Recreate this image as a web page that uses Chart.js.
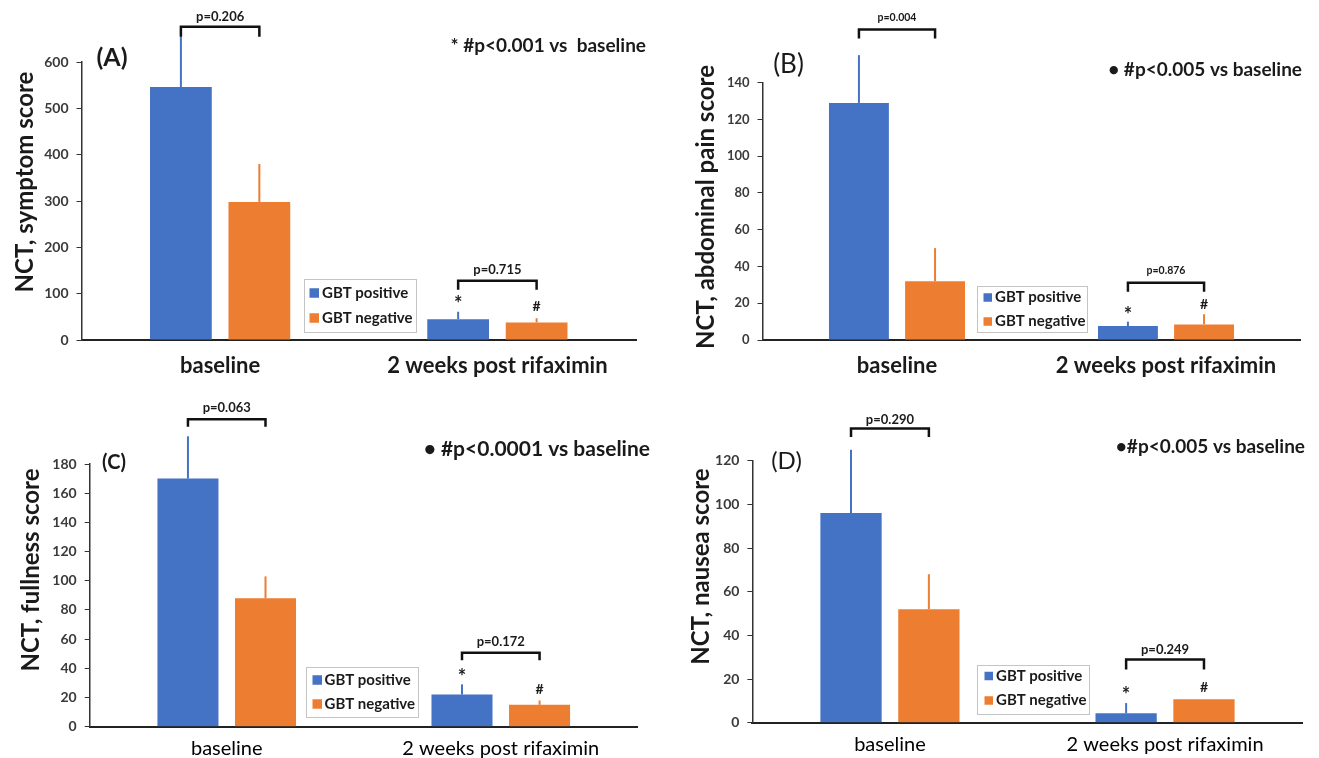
<!DOCTYPE html>
<html>
<head>
<meta charset="utf-8">
<title>NCT scores, GBT positive vs negative</title>
<script src="https://cdn.jsdelivr.net/npm/chart.js@4.4.1/dist/chart.umd.min.js"></script>
<style>
  html, body { margin: 0; padding: 0; background: #fff; }
  #wrap { position: relative; width: 1319px; height: 758px; overflow: hidden; }
  #wrap canvas { position: absolute; }
</style>
</head>
<body>
<div id="wrap">
  <canvas id="chartA" width="660" height="380" style="left:0;top:0;width:660px;height:380px"></canvas>
  <canvas id="chartB" width="659" height="380" style="left:660px;top:0;width:659px;height:380px"></canvas>
  <canvas id="chartC" width="660" height="378" style="left:0;top:380px;width:660px;height:378px"></canvas>
  <canvas id="chartD" width="659" height="378" style="left:660px;top:380px;width:659px;height:378px"></canvas>
</div>
<script>
// ---- data ----
const categories = ["baseline", "2 weeks post rifaximin"];
const seriesLabels = ["GBT positive", "GBT negative"];
const markers = ["*", "#"];

// (A) symptom score
const symptomPos = [546, 45];
const symptomPosUpper = [655, 61];
const symptomNeg = [298, 38];
const symptomNegUpper = [380, 47];
const symptomP = ["p=0.206", "p=0.715"];
const symptomTicks = { max: 600, step: 100 };

// (B) abdominal pain score
const painPos = [129, 7.6];
const painPosUpper = [155, 10];
const painNeg = [32, 8.5];
const painNegUpper = [50, 14];
const painP = ["p=0.004", "p=0.876"];
const painTicks = { max: 140, step: 20 };

// (C) fullness score
const fullPos = [170, 22];
const fullPosUpper = [199, 29];
const fullNeg = [88, 15];
const fullNegUpper = [103, 18];
const fullP = ["p=0.063", "p=0.172"];
const fullTicks = { max: 180, step: 20 };

// (D) nausea score
const nauseaPos = [96, 4.3];
const nauseaPosUpper = [125, 9];
const nauseaNeg = [52, 10.7];
const nauseaNegUpper = [68, null];
const nauseaP = ["p=0.290", "p=0.249"];
const nauseaTicks = { max: 120, step: 20 };

const BLUE = "#4472C4";
const ORANGE = "#ED7D31";
const TEXT = "#1a1a1a";
const FONT = "Lato, 'Open Sans', sans-serif";

// error bars, brackets, markers, legend, labels
const decor = {
  id: "decor",
  afterDatasetsDraw(chart) {
    const ctx = chart.ctx, ys = chart.scales.y;
    chart.data.datasets.forEach((ds, di) => {
      ctx.save();
      ctx.strokeStyle = ds.backgroundColor;
      ctx.lineWidth = 2;
      chart.getDatasetMeta(di).data.forEach((bar, i) => {
        const hi = ds.upper[i];
        if (hi == null || hi <= ds.data[i]) return;
        ctx.beginPath();
        ctx.moveTo(bar.x, bar.y);
        ctx.lineTo(bar.x, ys.getPixelForValue(hi));
        ctx.stroke();
      });
      ctx.restore();
    });
  },
  afterDraw(chart, args, o) {
    const ctx = chart.ctx, ys = chart.scales.y;
    const ds = chart.data.datasets;
    const m0 = chart.getDatasetMeta(0).data, m1 = chart.getDatasetMeta(1).data;
    ctx.save();
    ctx.fillStyle = TEXT;
    ctx.textBaseline = "middle";

    // y axis title
    ctx.save();
    ctx.translate(o.yTitle.x, o.yTitle.y);
    ctx.rotate(-Math.PI / 2);
    ctx.font = o.yTitle.font;
    ctx.textAlign = "center";
    ctx.fillText(o.yTitle.text, 0, 0);
    ctx.restore();

    // panel letter + note
    ctx.font = o.letter.font;
    ctx.textAlign = "center";
    ctx.fillText(o.letter.text, o.letter.x, o.letter.y);
    ctx.font = o.note.font;
    ctx.textAlign = "right";
    ctx.fillText(o.note.text, o.note.x, o.note.y);

    // p-value brackets
    o.brackets.forEach((b, i) => {
      const x0 = m0[i].x, x1 = m1[i].x, y = ys.getPixelForValue(b.level);
      ctx.strokeStyle = "#111";
      ctx.lineWidth = 2.5;
      ctx.beginPath();
      ctx.moveTo(x0, y + b.drop);
      ctx.lineTo(x0, y);
      ctx.lineTo(x1, y);
      ctx.lineTo(x1, y + b.drop);
      ctx.stroke();
      ctx.font = o.pFont;
      ctx.textAlign = "center";
      ctx.fillText(o.pValues[i], (x0 + x1) / 2, y - b.gap);
    });

    // significance markers above post-treatment bars
    ctx.textAlign = "center";
    markers.forEach((sym, di) => {
      const bar = chart.getDatasetMeta(di).data[1];
      const top = Math.max(ds[di].upper[1] ?? 0, ds[di].data[1]);
      const star = sym === "*";
      ctx.font = star ? "bold 20px " + FONT : "bold 14px " + FONT;
      ctx.fillText(sym, bar.x, ys.getPixelForValue(top) - o.markGap + (star ? 4 : 0));
    });

    // legend
    const L = o.legend;
    ctx.fillStyle = "#fff";
    ctx.fillRect(L.x, L.y, L.w, L.h);
    ctx.strokeStyle = "#c4c4c4";
    ctx.lineWidth = 1;
    ctx.strokeRect(L.x + 0.5, L.y + 0.5, L.w, L.h);
    ds.forEach((d, di) => {
      const cy = L.rows[di];
      ctx.fillStyle = d.backgroundColor;
      ctx.fillRect(L.sx, cy - L.sq / 2, L.sq, L.sq);
      ctx.fillStyle = TEXT;
      ctx.font = L.font;
      ctx.textAlign = "left";
      ctx.fillText(d.label, L.tx, cy);
    });
    ctx.restore();
  }
};

function makePanel(id, p) {
  const canvas = document.getElementById(id);
  const H = canvas.height, W = canvas.width;
  const bar = { categoryPercentage: 0.566, barPercentage: 0.787 };
  return new Chart(canvas, {
    type: "bar",
    data: {
      labels: categories,
      datasets: [
        Object.assign({ label: seriesLabels[0], data: p.pos, upper: p.posUpper, backgroundColor: BLUE }, bar),
        Object.assign({ label: seriesLabels[1], data: p.neg, upper: p.negUpper, backgroundColor: ORANGE }, bar)
      ]
    },
    options: {
      responsive: false,
      animation: false,
      devicePixelRatio: 1,
      layout: { padding: { left: 0, top: p.area.top, right: W - p.area.right, bottom: 0 } },
      plugins: {
        legend: { display: false },
        tooltip: { enabled: false },
        decor: p.decor
      },
      scales: {
        x: {
          grid: { display: false, drawTicks: false },
          border: { color: "#222", width: 2 },
          ticks: { color: p.xColor, font: p.xFont, padding: p.xPad, maxRotation: 0, autoSkip: false },
          afterFit: s => { s.height = H - p.area.bottom; }
        },
        y: {
          min: 0,
          max: p.ticks.max,
          ticks: { stepSize: p.ticks.step, color: "#3a3a3a", font: p.yFont, padding: 8 },
          grid: { drawOnChartArea: false, tickLength: 5, color: "#333" },
          border: { color: "#333", width: 1.5 },
          afterFit: s => { s.width = p.area.left; }
        }
      }
    },
    plugins: [decor]
  });
}

makePanel("chartA", {
  pos: symptomPos, posUpper: symptomPosUpper, neg: symptomNeg, negUpper: symptomNegUpper,
  ticks: symptomTicks,
  area: { left: 81.5, right: 636, top: 62, bottom: 340 },
  xFont: { family: FONT, size: 22, weight: "bold" }, xPad: 12.8, xColor: TEXT,
  yFont: { family: FONT, size: 14, weight: "bold" },
  decor: {
    yTitle: { text: "NCT, symptom score", x: 25, y: 182, font: "bold 24px " + FONT },
    letter: { text: "(A)", x: 112, y: 58, font: "bold 25px " + FONT },
    note: { text: "* #p<0.001 vs  baseline", x: 646, y: 46, font: "bold 19px " + FONT },
    pValues: symptomP, pFont: "bold 13px " + FONT,
    brackets: [{ level: 676, drop: 10, gap: 10 }, { level: 128, drop: 9, gap: 10.5 }],
    markGap: 11.5,
    legend: { x: 304, y: 279, w: 112, h: 53, rows: [293, 318], sx: 309.5, sq: 9.5, tx: 322, font: "bold 15px " + FONT }
  }
});

makePanel("chartB", {
  pos: painPos, posUpper: painPosUpper, neg: painNeg, negUpper: painNegUpper,
  ticks: painTicks,
  area: { left: 102.5, right: 640.5, top: 82.7, bottom: 340 },
  xFont: { family: FONT, size: 22, weight: "bold" }, xPad: 12.8, xColor: TEXT,
  yFont: { family: FONT, size: 13, weight: "bold" },
  decor: {
    yTitle: { text: "NCT, abdominal pain score", x: 46, y: 207, font: "bold 24px " + FONT },
    letter: { text: "(B)", x: 128.5, y: 65, font: "26px " + FONT },
    note: { text: "• #p<0.005 vs baseline", x: 642, y: 70, font: "bold 19px " + FONT },
    pValues: painP, pFont: "bold 10.5px " + FONT,
    brackets: [{ level: 169, drop: 9, gap: 12 }, { level: 31.2, drop: 9, gap: 12 }],
    markGap: 10,
    legend: { x: 317, y: 286, w: 110, h: 46, rows: [297.5, 321.5], sx: 323.5, sq: 8.5, tx: 335, font: "bold 15px " + FONT }
  }
});

makePanel("chartC", {
  pos: fullPos, posUpper: fullPosUpper, neg: fullNeg, negUpper: fullNegUpper,
  ticks: fullTicks,
  area: { left: 89.7, right: 637.8, top: 84, bottom: 346.7 },
  xFont: { family: FONT, size: 20, weight: "normal" }, xPad: 9.6, xColor: "#000",
  yFont: { family: FONT, size: 14, weight: "bold" },
  decor: {
    yTitle: { text: "NCT, fullness score", x: 31.5, y: 190, font: "bold 24px " + FONT },
    letter: { text: "(C)", x: 114, y: 82.5, font: "bold 20px " + FONT },
    note: { text: "• #p<0.0001 vs baseline", x: 650, y: 69, font: "bold 21px " + FONT },
    pValues: fullP, pFont: "bold 13px " + FONT,
    brackets: [{ level: 210.6, drop: 7.5, gap: 11.8 }, { level: 50.7, drop: 7.5, gap: 11 }],
    markGap: 11,
    legend: { x: 306, y: 287, w: 112, h: 50, rows: [300, 324], sx: 312.5, sq: 9.5, tx: 324.5, font: "bold 15px " + FONT }
  }
});

makePanel("chartD", {
  pos: nauseaPos, posUpper: nauseaPosUpper, neg: nauseaNeg, negUpper: nauseaNegUpper,
  ticks: nauseaTicks,
  area: { left: 92.4, right: 642.6, top: 80.7, bottom: 342.7 },
  xFont: { family: FONT, size: 20, weight: "normal" }, xPad: 10.3, xColor: "#000",
  yFont: { family: FONT, size: 14, weight: "bold" },
  decor: {
    yTitle: { text: "NCT, nausea score", x: 41, y: 186.5, font: "bold 24px " + FONT },
    letter: { text: "(D)", x: 126.5, y: 81, font: "24px " + FONT },
    note: { text: "•#p<0.005 vs baseline", x: 645, y: 66.7, font: "bold 19px " + FONT },
    pValues: nauseaP, pFont: "bold 13px " + FONT,
    brackets: [{ level: 134.8, drop: 8.5, gap: 9 }, { level: 29, drop: 10, gap: 9.3 }],
    markGap: 12,
    legend: { x: 317, y: 285, w: 112, h: 49, rows: [296, 320.5], sx: 324.5, sq: 8.5, tx: 336, font: "bold 15px " + FONT }
  }
});
</script>
</body>
</html>
